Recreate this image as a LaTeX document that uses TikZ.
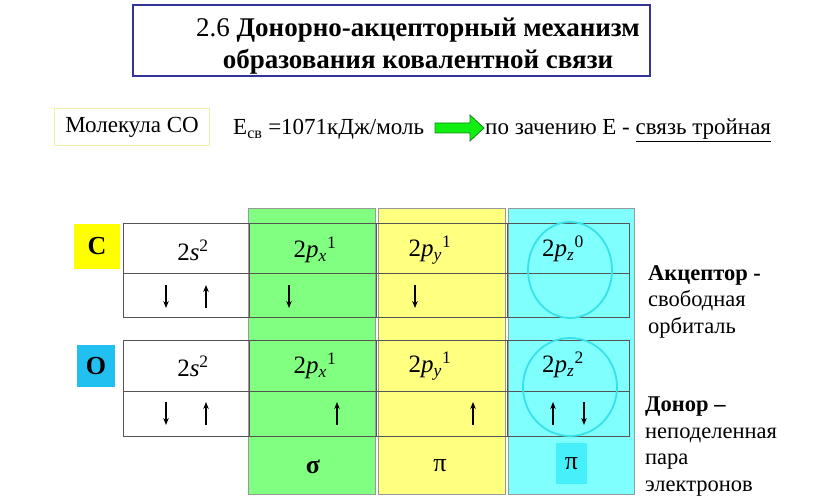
\documentclass[tikz,border=0pt]{standalone}
\usepackage{fontspec}
\setmainfont{Liberation Serif}
\usetikzlibrary{arrows.meta}
\definecolor{titleblue}{HTML}{333399}
\definecolor{colgreen}{HTML}{80FF80}
\definecolor{colyellow}{HTML}{FFFF80}
\definecolor{colcyan}{HTML}{80FFFF}
\definecolor{pibox}{HTML}{45F0FA}
\definecolor{ring}{HTML}{38E0E8}
\definecolor{clab}{HTML}{FFFF00}
\definecolor{olab}{HTML}{22C0F0}
\definecolor{tline}{HTML}{555555}
\definecolor{arrgreen}{HTML}{11EE11}
\definecolor{arrdark}{HTML}{118811}
\definecolor{molbox}{HTML}{F0F0A8}
\tikzset{
  colbox/.style={draw=gray!80, line width=0.6pt, inner sep=0, minimum width=127pt, minimum height=286pt},
  cell/.style={draw=tline, line width=0.8pt, inner sep=0},
  spin/.style={-{Stealth[length=7pt,width=5.5pt]}, line width=1.1pt},
  orbtext/.style={font=\fontsize{25}{30}\selectfont, inner sep=0},
  sidetext/.style={font=\fontsize{22.5}{26.5}\selectfont, align=left, anchor=north west, inner sep=0},
  ring/.style={draw=ring, line width=1.8pt}
}
\newcommand{\orbx}[3]{2\textit{#1}\textsubscript{\textit{#2}}\textsuperscript{#3}}
\begin{document}
\begin{tikzpicture}[x=1pt,y=-1pt]
\useasboundingbox[fill=white] (0,0) rectangle (819,502);
% title
\node[draw=titleblue, line width=2.6pt, fill=white, minimum width=517pt, minimum height=71pt, inner sep=0] (titlebox) at (391.5,40.5) {};
\node[font=\fontsize{27}{32}\selectfont, align=center, inner sep=0] (title) at (418,46)
  {2.6 \textbf{Донорно-акцепторный механизм}\\\textbf{образования ковалентной связи}};
% second line
\node[draw=molbox, line width=1pt, minimum width=155pt, minimum height=37pt, inner sep=0, font=\fontsize{23}{27}\selectfont] (mol) at (132,127) {Молекула СО};
\node[anchor=base west, inner sep=0, font=\fontsize{23}{27}\selectfont] (energy) at (233,135) {E\textsubscript{св} =1071кДж/моль};
\draw[fill=arrgreen, draw=arrdark, line width=0.8pt] (435,123) -- (470,123) -- (470,115) -- (484,128) -- (470,141) -- (470,133) -- (435,133) -- cycle;
\node[anchor=base west, inner sep=0, font=\fontsize{23}{27}\selectfont] (bond) at (485,135) {по зачению Е - \underline{связь тройная}};
% coloured columns
\node[colbox, fill=colgreen] (gcol) at (311.5,351.5) {};
\node[colbox, fill=colyellow] (ycol) at (441.5,351.5) {};
\node[colbox, fill=colcyan, minimum width=126pt] (ccol) at (571,351) {};
% labels
\node[fill=clab, minimum width=46pt, minimum height=45pt, inner sep=0, font=\fontsize{26}{30}\selectfont\bfseries] (C) at (97,246.5) {C};
\node[fill=olab, minimum width=38pt, minimum height=42pt, inner sep=0, font=\fontsize{26}{30}\selectfont\bfseries] (O) at (96,366) {O};
% carbon table
\node[cell, minimum width=126pt, minimum height=50pt] (c1) at (186,248) {};
\node[cell, minimum width=127pt, minimum height=50pt] (c2) at (312.5,248) {};
\node[cell, minimum width=131pt, minimum height=50pt] (c3) at (441.5,248) {};
\node[cell, minimum width=122pt, minimum height=50pt] (c4) at (568,248) {};
\node[cell, minimum width=126pt, minimum height=44pt] (c1b) at (186,295) {};
\node[cell, minimum width=127pt, minimum height=44pt] (c2b) at (312.5,295) {};
\node[cell, minimum width=131pt, minimum height=44pt] (c3b) at (441.5,295) {};
\node[cell, minimum width=122pt, minimum height=44pt] (c4b) at (568,295) {};
% oxygen table
\node[cell, minimum width=126pt, minimum height=51pt] (o1) at (186,365.5) {};
\node[cell, minimum width=127pt, minimum height=51pt] (o2) at (312.5,365.5) {};
\node[cell, minimum width=131pt, minimum height=51pt] (o3) at (441.5,365.5) {};
\node[cell, minimum width=122pt, minimum height=51pt] (o4) at (568,365.5) {};
\node[cell, minimum width=126pt, minimum height=45pt] (o1b) at (186,413.5) {};
\node[cell, minimum width=127pt, minimum height=45pt] (o2b) at (312.5,413.5) {};
\node[cell, minimum width=131pt, minimum height=45pt] (o3b) at (441.5,413.5) {};
\node[cell, minimum width=122pt, minimum height=45pt] (o4b) at (568,413.5) {};
% orbital labels
\node[orbtext] (t1) at (193,250) {2\textit{s}\textsuperscript{2}};
\node[orbtext] (t2) at (315,250) {\orbx{p}{x}{1}};
\node[orbtext] (t3) at (430,250) {\orbx{p}{y}{1}};
\node[orbtext] (t4) at (563,249) {\orbx{p}{z}{0}};
\node[orbtext] (u1) at (193,366) {2\textit{s}\textsuperscript{2}};
\node[orbtext] (u2) at (315,366) {\orbx{p}{x}{1}};
\node[orbtext] (u3) at (430,366) {\orbx{p}{y}{1}};
\node[orbtext] (u4) at (563,365) {\orbx{p}{z}{2}};
% rings
\draw[ring] (570,270) ellipse [x radius=42, y radius=48];
\draw[ring] (570,387) ellipse [x radius=47, y radius=49];
% spins carbon
\draw[spin] (166,285) -- (166,308);
\draw[spin] (206,308) -- (206,285);
\draw[spin] (289,285) -- (289,308);
\draw[spin] (415,285) -- (415,308);
% spins oxygen
\draw[spin] (166,402) -- (166,425);
\draw[spin] (206,425) -- (206,402);
\draw[spin] (337,425) -- (337,402);
\draw[spin] (473,425) -- (473,402);
\draw[spin] (553,425) -- (553,402);
\draw[spin] (584,402) -- (584,425);
% bond types
\node[font=\fontsize{26}{30}\selectfont\bfseries, inner sep=0] (sig) at (313,467) {σ};
\node[font=\fontsize{26}{30}\selectfont, inner sep=0] (pi1) at (440,466) {π};
\node[fill=pibox, minimum width=31pt, minimum height=41pt, inner sep=0, font=\fontsize{26}{30}\selectfont] (pi2) at (571.5,463.5) {π};
% side texts
\node[sidetext] (acc) at (648,265) {\textbf{Акцептор -}\\свободная\\орбиталь};
\node[sidetext] (don) at (645,397) {\textbf{Донор –}\\неподеленная\\пара\\электронов};
\end{tikzpicture}
\end{document}
